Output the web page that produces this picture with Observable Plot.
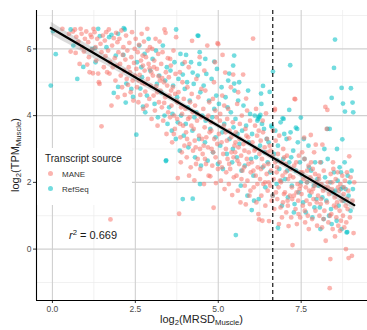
<!DOCTYPE html>
<html>
<head>
<meta charset="utf-8">
<script src="https://cdn.jsdelivr.net/npm/d3@7"></script>
<script src="https://cdn.jsdelivr.net/npm/@observablehq/plot@0.6"></script>
<style>
  html, body { margin: 0; padding: 0; background: #fff; }
  #wrap { position: relative; width: 367px; height: 330px; font-family: "Liberation Sans", Arial, sans-serif; }
  .legend { position: absolute; left: 37px; top: 148px; width: 95px; height: 57px; background: #fff; }
  .legend .title { position: absolute; left: 8px; top: 5px; font-size: 10px; color: #1a1a1a; white-space: nowrap; }
  .legend .item { position: absolute; left: 11px; font-size: 8px; color: #333; white-space: nowrap; }
  .legend .key { display: inline-block; width: 5px; height: 5px; border-radius: 50%; margin-right: 9px; vertical-align: middle; position: relative; top: -1px; }
  .ann { position: absolute; font-size: 11px; color: #1a1a1a; white-space: nowrap; }
  .xtitle { position: absolute; left: 36px; width: 331px; top: 313px; text-align: center; font-size: 11px; color: #222; }
  .ytitle { position: absolute; left: 15px; top: 155px; font-size: 11px; color: #222; white-space: nowrap; transform: translate(-50%, -50%) rotate(-90deg); }
  sub { font-size: 70%; vertical-align: -0.3em; line-height: 0; }
  sup { font-size: 70%; vertical-align: 0.55em; line-height: 0; }
</style>
</head>
<body>
<div id="wrap"></div>
<script>
// log2(MRSD_Muscle), log2(TPM_Muscle) pairs per transcript source
const mane = [
[0.3,6.6],[0.5,6.45],[0.55,5.92],[0.62,6.52],[0.68,6.58],
[0.72,6.36],[0.78,6.22],[0.85,6.6],[0.88,6.45],[0.9,6.05],[0.95,5.92],[0.7,5.88],[0.98,6.3],[0.82,5.55],
[1.02,6.52],[1.05,5.53],[1.08,6.2],[1.1,5.75],[1.12,5.3],[1.15,6.42],[1.18,6.35],[1.2,5.98],[1.22,5.27],[1.24,6.6],
[1.27,6.5],[1.3,6.05],[1.32,5.65],[1.35,6.3],[1.38,5.26],[1.4,5.0],[1.42,4.95],[1.45,6.15],[1.48,3.68],[1.48,5.9],
[1.52,6.4],[1.55,5.45],[1.58,6.25],[1.6,5.78],[1.62,6.5],[1.65,5.3],[1.68,5.95],[1.7,6.58],[1.72,5.26],[1.75,0.89],[1.74,5.6],
[1.78,4.3],[1.8,6.1],[1.82,5.45],[1.85,6.32],[1.88,5.72],[1.9,5.05],[1.92,6.48],[1.95,5.5],[1.97,4.55],[1.99,5.9],[1.96,6.2],
[2.02,6.3],[2.04,5.55],[2.06,5.2],[2.08,6.55],[2.1,4.85],[2.12,5.82],[2.14,6.05],[2.16,5.35],[2.18,4.62],[2.2,5.68],[2.22,6.4],[2.24,5.1],
[2.26,5.95],[2.28,4.92],[2.3,5.45],[2.32,6.18],[2.34,5.3],[2.36,4.7],[2.38,5.75],[2.4,6.5],[2.42,5.05],[2.44,4.45],[2.46,5.58],[2.48,6.0],[2.49,5.2],
[2.51,6.3],[2.53,5.4],[2.55,4.85],[2.57,5.9],[2.59,4.4],[2.61,6.12],[2.63,5.22],[2.65,4.62],[2.67,5.65],[2.69,6.45],[2.71,4.98],[2.73,5.5],[2.74,4.2],[2.72,5.8],[2.6,5.05],
[2.76,6.22],[2.78,5.35],[2.8,4.72],[2.82,5.75],[2.84,4.3],[2.86,6.6],[2.88,5.1],[2.9,5.55],[2.92,4.5],[2.94,6.05],[2.96,4.9],[2.98,5.3],[2.99,3.9],[2.87,5.95],[2.93,5.42],[2.79,4.95],
[3.01,6.0],[3.03,5.2],[3.05,4.6],[3.07,5.65],[3.09,4.15],[3.11,6.3],[3.13,4.88],[3.15,5.4],[3.17,3.7],[3.19,5.85],[3.21,4.4],[3.23,6.22],[3.24,5.05],[3.06,5.45],[3.16,4.7],[3.2,5.18],
[3.26,4.75],[3.28,5.55],[3.3,4.25],[3.32,5.9],[3.34,3.85],[3.36,5.0],[3.38,6.58],[3.4,4.55],[3.42,5.3],[3.44,3.45],[3.46,4.9],[3.48,5.72],[3.49,4.1],[3.31,5.12],[3.41,6.48],[3.37,4.38],
[3.51,5.15],[3.53,4.6],[3.55,3.95],[3.57,5.5],[3.59,4.3],[3.61,3.2],[3.63,4.85],[3.65,5.95],[3.67,4.0],[3.69,3.6],[3.71,5.25],[3.73,6.35],[3.74,4.45],[3.58,4.75],[3.66,3.45],[3.7,4.65],[3.55,5.7],
[3.76,3.9],[3.78,2.13],[3.8,4.7],[3.82,1.06],[3.84,5.3],[3.86,3.35],[3.88,4.25],[3.9,2.9],[3.92,5.0],[3.94,3.7],[3.96,4.5],[3.98,3.1],[3.99,5.6],[3.77,4.4],[3.85,3.75],[3.91,4.05],[3.87,2.6],
[4.01,4.2],[4.03,3.5],[4.05,2.75],[4.07,4.85],[4.09,3.9],[4.11,5.45],[4.13,3.15],[4.15,4.4],[4.17,2.45],[4.19,3.7],[4.21,6.24],[4.23,4.1],[4.24,2.95],[4.06,3.3],[4.14,3.95],[4.2,4.65],[4.12,2.2],
[4.26,3.6],[4.28,2.06],[4.3,4.3],[4.32,3.05],[4.34,5.1],[4.36,3.85],[4.38,2.7],[4.4,4.55],[4.42,3.4],[4.44,5.75],[4.46,2.4],[4.48,3.95],[4.49,4.8],[4.29,3.25],[4.37,4.05],[4.45,3.0],[4.33,2.55],
[4.51,3.3],[4.53,2.85],[4.55,4.2],[4.57,1.95],[4.59,3.65],[4.61,4.75],[4.63,2.55],[4.65,3.9],[4.67,6.1],[4.69,3.05],[4.71,2.2],[4.73,4.4],[4.74,3.5],[4.56,3.1],[4.64,3.35],[4.7,4.0],[4.6,2.7],[4.58,5.35],
[4.76,2.18],[4.78,3.8],[4.8,3.0],[4.82,2.5],[4.84,4.5],[4.86,1.24],[4.88,3.3],[4.9,5.6],[4.92,2.75],[4.93,1.98],[4.95,3.95],[4.97,3.15],[4.98,6.17],[4.79,3.55],[4.85,2.9],[4.91,4.15],[4.99,2.4],[4.87,5.0],
[5.0,6.14],[5.02,3.45],[5.04,2.6],[5.06,4.05],[5.08,2.05],[5.1,3.2],[5.12,4.6],[5.13,5.82],[5.15,2.85],[5.17,3.7],[5.19,1.8],[5.21,5.29],[5.23,3.0],[5.24,2.3],[5.05,3.85],[5.11,2.45],[5.18,4.3],[5.22,3.5],
[5.26,3.25],[5.28,2.7],[5.3,4.2],[5.32,1.95],[5.34,3.55],[5.36,2.4],[5.38,4.85],[5.4,2.9],[5.42,1.62],[5.44,3.8],[5.45,5.23],[5.47,2.15],[5.49,3.1],[5.27,3.9],[5.33,2.55],[5.39,3.35],[5.46,2.75],
[5.51,2.9],[5.53,3.5],[5.55,2.2],[5.57,4.35],[5.59,1.75],[5.61,3.05],[5.63,2.55],[5.65,3.75],[5.67,1.4],[5.69,2.8],[5.71,4.0],[5.73,2.35],[5.75,5.23],[5.52,3.2],[5.58,2.65],[5.64,3.3],[5.7,2.1],[5.6,4.7],
[5.76,3.15],[5.78,2.45],[5.8,1.9],[5.82,3.6],[5.83,1.34],[5.84,4.51],[5.86,2.7],[5.88,2.05],[5.9,3.35],[5.92,2.9],[5.94,1.6],[5.96,3.85],[5.98,2.3],[5.79,2.95],[5.85,3.4],[5.91,2.55],[5.97,1.75],[5.87,4.15],
[6.01,2.6],[6.03,3.2],[6.05,6.31],[6.07,1.85],[6.09,2.95],[6.11,3.7],[6.13,2.2],[6.15,1.4],[6.17,3.4],[6.19,2.45],[6.21,1.05],[6.23,0.89],[6.24,2.85],[6.06,2.35],[6.12,3.0],[6.18,1.95],[6.14,4.2],[6.22,3.55],
[6.26,2.1],[6.28,3.25],[6.3,1.6],[6.32,2.7],[6.34,3.85],[6.36,1.95],[6.38,2.5],[6.4,3.05],[6.42,1.3],[6.44,4.07],[6.46,2.25],[6.48,2.9],[6.49,1.75],[6.29,2.4],[6.35,3.5],[6.41,2.0],[6.47,3.3],[6.33,0.85],
[6.51,2.55],[6.53,0.84],[6.55,3.1],[6.57,1.9],[6.59,2.35],[6.61,1.45],[6.63,2.8],[6.65,3.55],[6.67,2.1],[6.69,1.2],[6.71,4.2],[6.72,2.6],[6.74,1.7],[6.52,2.0],[6.58,2.95],[6.64,1.6],[6.7,4.16],[6.73,3.25],
[6.76,2.3],[6.78,1.5],[6.8,2.85],[6.82,1.85],[6.84,3.4],[6.86,2.05],[6.88,1.25],[6.9,2.6],[6.92,0.95],[6.94,2.2],[6.96,3.0],[6.98,1.65],[6.77,2.45],[6.83,0.75],[6.89,2.0],[6.95,1.4],[6.99,2.75],
[7.01,1.7],[7.03,2.3],[7.05,1.1],[7.07,2.8],[7.09,1.45],[7.11,2.1],[7.12,0.69],[7.14,3.32],[7.16,1.6],[7.18,2.4],[7.2,0.95],[7.22,1.85],[7.24,0.12],[7.04,2.55],[7.1,1.3],[7.17,2.2],[7.23,1.5],
[7.26,2.15],[7.28,1.6],[7.3,4.5],[7.32,4.49],[7.33,1.2],[7.35,2.6],[7.37,0.75],[7.39,1.95],[7.41,1.45],[7.43,2.8],[7.45,1.8],[7.47,0.95],[7.49,2.3],[7.29,2.5],[7.36,1.7],[7.42,1.05],[7.48,1.9],
[7.51,1.65],[7.53,2.9],[7.55,1.3],[7.57,2.1],[7.59,3.34],[7.6,2.7],[7.62,0.8],[7.64,1.85],[7.66,1.45],[7.68,2.35],[7.7,1.0],[7.72,2.5],[7.74,1.75],[7.54,2.3],[7.61,1.15],[7.67,2.0],[7.73,0.6],
[7.76,1.35],[7.78,2.15],[7.79,3.42],[7.81,1.7],[7.83,0.9],[7.85,2.4],[7.87,1.5],[7.89,2.9],[7.91,1.9],[7.93,1.15],[7.94,3.13],[7.96,2.0],[7.98,0.7],[7.8,2.6],[7.86,1.8],[7.92,2.25],[7.97,1.4],
[8.01,1.6],[8.03,2.2],[8.05,1.0],[8.07,2.6],[8.09,1.35],[8.11,1.95],[8.13,0.65],[8.14,3.13],[8.16,1.75],[8.18,2.35],[8.2,1.15],[8.22,1.85],[8.23,4.26],[8.24,0.25],[8.04,2.1],[8.1,1.5],[8.17,0.9],
[8.27,3.6],[8.29,4.17],[8.28,1.4],[8.3,2.0],[8.32,0.8],[8.34,1.65],[8.36,-1.17],[8.38,-0.3],[8.39,2.25],[8.41,1.05],[8.43,1.8],[8.45,0.6],[8.47,2.4],[8.49,1.3],[8.31,1.85],[8.37,1.0],[8.44,2.0],[8.46,2.6],
[8.51,1.55],[8.52,0.38],[8.54,2.1],[8.56,0.95],[8.58,1.4],[8.6,2.3],[8.62,0.7],[8.64,1.75],[8.66,1.15],[8.68,1.95],[8.7,0.85],[8.72,1.45],[8.74,2.2],[8.55,1.25],[8.61,1.85],[8.67,0.55],
[8.76,1.0],[8.78,1.65],[8.8,0.65],[8.82,2.05],[8.84,1.3],[8.85,0.0],[8.86,0.8],[8.88,2.3],[8.9,1.2],[8.92,1.75],[8.93,-0.27],[8.95,2.78],[8.97,0.95],[8.99,2.15],[9.03,-0.2],[9.05,1.45],[9.08,0.48],[9.1,2.0],[8.79,1.85],[8.87,1.5]
];

const refseq = [
[-0.05,4.9],[0.1,5.84],[0.02,6.53],[0.55,6.58],[0.63,6.1],[0.75,5.1],[0.93,5.46],[1.2,6.0],[1.38,6.6],[1.43,6.38],
[1.3,5.6],[1.63,6.05],[1.71,6.35],[1.78,6.42],[1.98,6.45],[2.15,6.62],[2.18,6.58],[1.91,5.8],[2.14,5.82],[1.28,6.02],
[1.85,4.68],[1.98,4.86],[2.23,4.96],[2.21,4.39],[2.43,4.56],[2.38,4.8],[2.53,3.43],[2.65,4.81],[2.73,4.27],[3.42,2.64],
[3.93,1.5],[4.45,1.95],[4.23,1.51],[5.53,0.42],[6.01,1.17],[3.43,2.66],[3.73,6.58],[4.38,6.4],[4.4,6.39],[3.86,5.85],
[4.03,5.82],[4.43,5.55],[4.61,5.7],[4.88,5.62],[5.48,5.8],[5.45,5.5],[5.33,5.26],[5.48,4.96],[5.63,5.0],[4.23,5.29],
[3.93,5.23],[6.65,5.32],[7.17,5.51],[6.35,4.89],[6.29,4.66],[6.55,4.71],[8.52,6.28],[8.49,5.43],[8.72,4.83],[8.42,4.53],
[8.76,4.36],[8.82,4.12],[9.0,4.82],[9.05,4.39],[9.07,4.1],[7.14,4.17],[7.49,3.94],[8.29,3.6],[8.36,3.6],[8.74,3.29],
[7.34,3.64],[6.94,3.92],[6.22,3.97],[6.8,0.64],[8.89,0.51],
[2.55,5.6],[2.62,6.1],[2.7,5.15],[2.78,5.85],[2.85,4.6],[2.9,6.3],[2.95,5.35],[2.8,4.1],[2.68,5.45],
[3.02,5.7],[3.08,4.35],[3.12,5.95],[3.18,3.95],[3.22,5.2],[3.28,4.7],[3.33,6.1],[3.38,4.0],[3.45,5.45],[3.47,3.75],[3.15,4.95],[3.4,5.05],
[3.52,4.25],[3.56,5.35],[3.6,3.55],[3.64,4.9],[3.68,5.6],[3.72,3.3],[3.76,4.55],[3.8,5.1],[3.84,2.95],[3.88,4.0],[3.92,5.55],[3.96,3.4],[3.99,4.8],[3.62,4.05],[3.78,3.8],
[4.02,3.75],[4.06,5.0],[4.1,3.05],[4.14,4.45],[4.18,5.6],[4.22,3.55],[4.26,4.95],[4.3,2.75],[4.34,4.1],[4.38,5.2],[4.42,3.3],[4.46,4.7],[4.48,2.5],[4.08,4.25],[4.28,3.95],[4.44,5.9],
[4.52,4.0],[4.56,4.9],[4.6,3.2],[4.64,5.25],[4.68,2.65],[4.72,4.45],[4.76,3.6],[4.8,5.1],[4.84,2.9],[4.88,4.2],[4.92,3.35],[4.96,5.4],[4.99,2.55],[4.62,3.85],[4.82,3.95],[4.94,4.6],
[5.02,4.35],[5.06,3.1],[5.1,4.85],[5.14,2.4],[5.18,3.75],[5.22,4.55],[5.26,2.85],[5.3,5.05],[5.34,3.3],[5.38,4.1],[5.42,2.6],[5.46,3.65],[5.49,4.75],[5.12,3.5],[5.28,4.25],[5.44,3.0],
[5.52,3.9],[5.56,2.75],[5.6,4.45],[5.64,3.15],[5.68,1.9],[5.72,3.55],[5.76,4.3],[5.8,2.5],[5.84,3.7],[5.88,1.6],[5.92,3.2],[5.96,4.05],[5.99,2.7],[5.58,3.45],[5.7,2.35],[5.9,4.75],
[6.02,3.45],[6.06,2.2],[6.1,4.0],[6.14,2.75],[6.18,3.85],[6.22,1.5],[6.26,3.1],[6.3,4.35],[6.34,2.45],[6.38,3.6],[6.42,1.85],[6.46,3.3],[6.49,2.6],[6.08,1.45],[6.24,3.95],[6.4,2.9],[6.27,4.02],[6.2,3.9],[6.32,3.75],
[6.52,3.2],[6.56,2.3],[6.6,3.7],[6.64,1.6],[6.68,2.85],[6.72,3.55],[6.76,1.95],[6.8,3.1],[6.84,2.4],[6.88,3.8],[6.92,1.3],[6.96,2.7],[6.99,3.45],[6.62,3.65],[6.78,2.65],[6.9,2.05],[6.97,3.9],
[7.02,2.1],[7.06,3.3],[7.1,1.55],[7.14,2.6],[7.18,3.5],[7.22,1.9],[7.26,2.95],[7.3,1.35],[7.34,2.35],[7.38,3.6],[7.42,1.7],[7.46,2.6],[7.49,2.0],[7.08,2.35],[7.2,2.75],[7.4,3.2],[7.28,1.1],
[7.52,2.25],[7.56,1.4],[7.6,2.7],[7.64,1.1],[7.68,2.0],[7.72,3.1],[7.76,1.6],[7.8,2.35],[7.84,0.95],[7.88,1.9],[7.92,2.6],[7.96,1.5],[7.99,2.1],[7.58,3.3],[7.74,2.45],[7.9,1.25],
[8.02,1.9],[8.06,1.25],[8.1,2.6],[8.14,1.55],[8.18,0.9],[8.22,2.15],[8.26,1.45],[8.3,2.7],[8.34,1.0],[8.38,2.0],[8.42,0.75],[8.46,1.7],[8.49,2.3],[8.08,0.6],[8.2,3.0],[8.4,1.2],
[8.53,1.75],[8.57,0.85],[8.6,2.05],[8.63,1.3],[8.66,2.45],[8.69,1.8],[8.72,0.6],[8.75,1.85],[8.78,1.45],[8.81,2.6],[8.84,1.8],[8.87,0.5],[8.9,2.2],[8.93,1.6],[8.96,2.0],[8.99,1.15],[9.02,2.35],[9.06,1.8],[8.58,3.0],[8.7,2.3]
];

const sources = ["MANE", "RefSeq"];
const sourceColors = ["#F8766D", "#00BFC4"];
const xTicks = [0, 2.5, 5, 7.5];
const xMinor = [1.25, 3.75, 6.25, 8.75];
const yTicks = [0, 2, 4, 6];
const yMinor = [-1, 1, 3, 5, 7];
const xDomain = [-0.48, 9.5];
const yDomain = [-1.54, 7.15];
const cutoff = [Math.log2(100)];   // MRSD = 100
const rSquared = 0.669;

// interleave the two sources so neither colour sits entirely on top
const points = [];
for (let i = 0; i < Math.max(mane.length, refseq.length); i++) {
  if (i < mane.length) points.push({x: mane[i][0], y: mane[i][1], source: "MANE"});
  if (i < refseq.length) points.push({x: refseq[i][0], y: refseq[i][1], source: "RefSeq"});
}

const chart = Plot.plot({
  width: 367,
  height: 330,
  marginLeft: 36,
  marginTop: 10,
  marginBottom: 30,
  marginRight: 0,
  style: {fontFamily: "'Liberation Sans', Arial, sans-serif", fontSize: "8.5px", background: "#fff", color: "#4d4d4d"},
  x: {domain: xDomain, label: null},
  y: {domain: yDomain, label: null},
  color: {domain: sources, range: sourceColors},
  marks: [
    Plot.gridX(xMinor, {stroke: "#ebebeb", strokeOpacity: 1, strokeWidth: 0.7}),
    Plot.gridY(yMinor, {stroke: "#ebebeb", strokeOpacity: 1, strokeWidth: 0.7}),
    Plot.gridX(xTicks, {stroke: "#d0d0d0", strokeOpacity: 1, strokeWidth: 1.1}),
    Plot.gridY(yTicks, {stroke: "#d0d0d0", strokeOpacity: 1, strokeWidth: 1.1}),
    Plot.dot(points, {x: "x", y: "y", fill: "source", r: 2.4, fillOpacity: 0.55, stroke: null}),
    Plot.linearRegressionY(points, {x: "x", y: "y", stroke: "#000", strokeWidth: 2.3, fill: "#888", fillOpacity: 0.3}),
    Plot.ruleX(cutoff, {stroke: "#000", strokeWidth: 1.1, strokeDasharray: "4,3"}),
    Plot.axisX(xTicks, {tickSize: 3, tickPadding: 2, stroke: "#333", fill: "#4d4d4d", tickFormat: d3.format(".1f"), label: null}),
    Plot.axisY(yTicks, {tickSize: 3, tickPadding: 2, stroke: "#333", fill: "#4d4d4d", label: null}),
    Plot.ruleX([xDomain[0]], {stroke: "#000", strokeWidth: 1.1}),
    Plot.ruleY([yDomain[0]], {stroke: "#000", strokeWidth: 1.1})
  ]
});

const wrap = document.getElementById("wrap");
wrap.appendChild(chart);

// legend
const legend = document.createElement("div");
legend.className = "legend";
legend.innerHTML = `<div class="title">Transcript source</div>` +
  sources.map((s, i) =>
    `<div class="item" style="top:${22 + i * 15}px"><span class="key" style="background:${sourceColors[i]};opacity:0.55"></span>${s}</div>`
  ).join("");
wrap.appendChild(legend);

// r² annotation
const ann = document.createElement("div");
ann.className = "ann";
ann.style.left = "69px";
ann.style.top = "229px";
ann.innerHTML = `<i>r</i><sup>2</sup> = ${rSquared.toFixed(3)}`;
wrap.appendChild(ann);

// axis titles
const xt = document.createElement("div");
xt.className = "xtitle";
xt.innerHTML = "log<sub>2</sub>(MRSD<sub>Muscle</sub>)";
wrap.appendChild(xt);

const yt = document.createElement("div");
yt.className = "ytitle";
yt.innerHTML = "log<sub>2</sub>(TPM<sub>Muscle</sub>)";
wrap.appendChild(yt);
</script>
</body>
</html>
